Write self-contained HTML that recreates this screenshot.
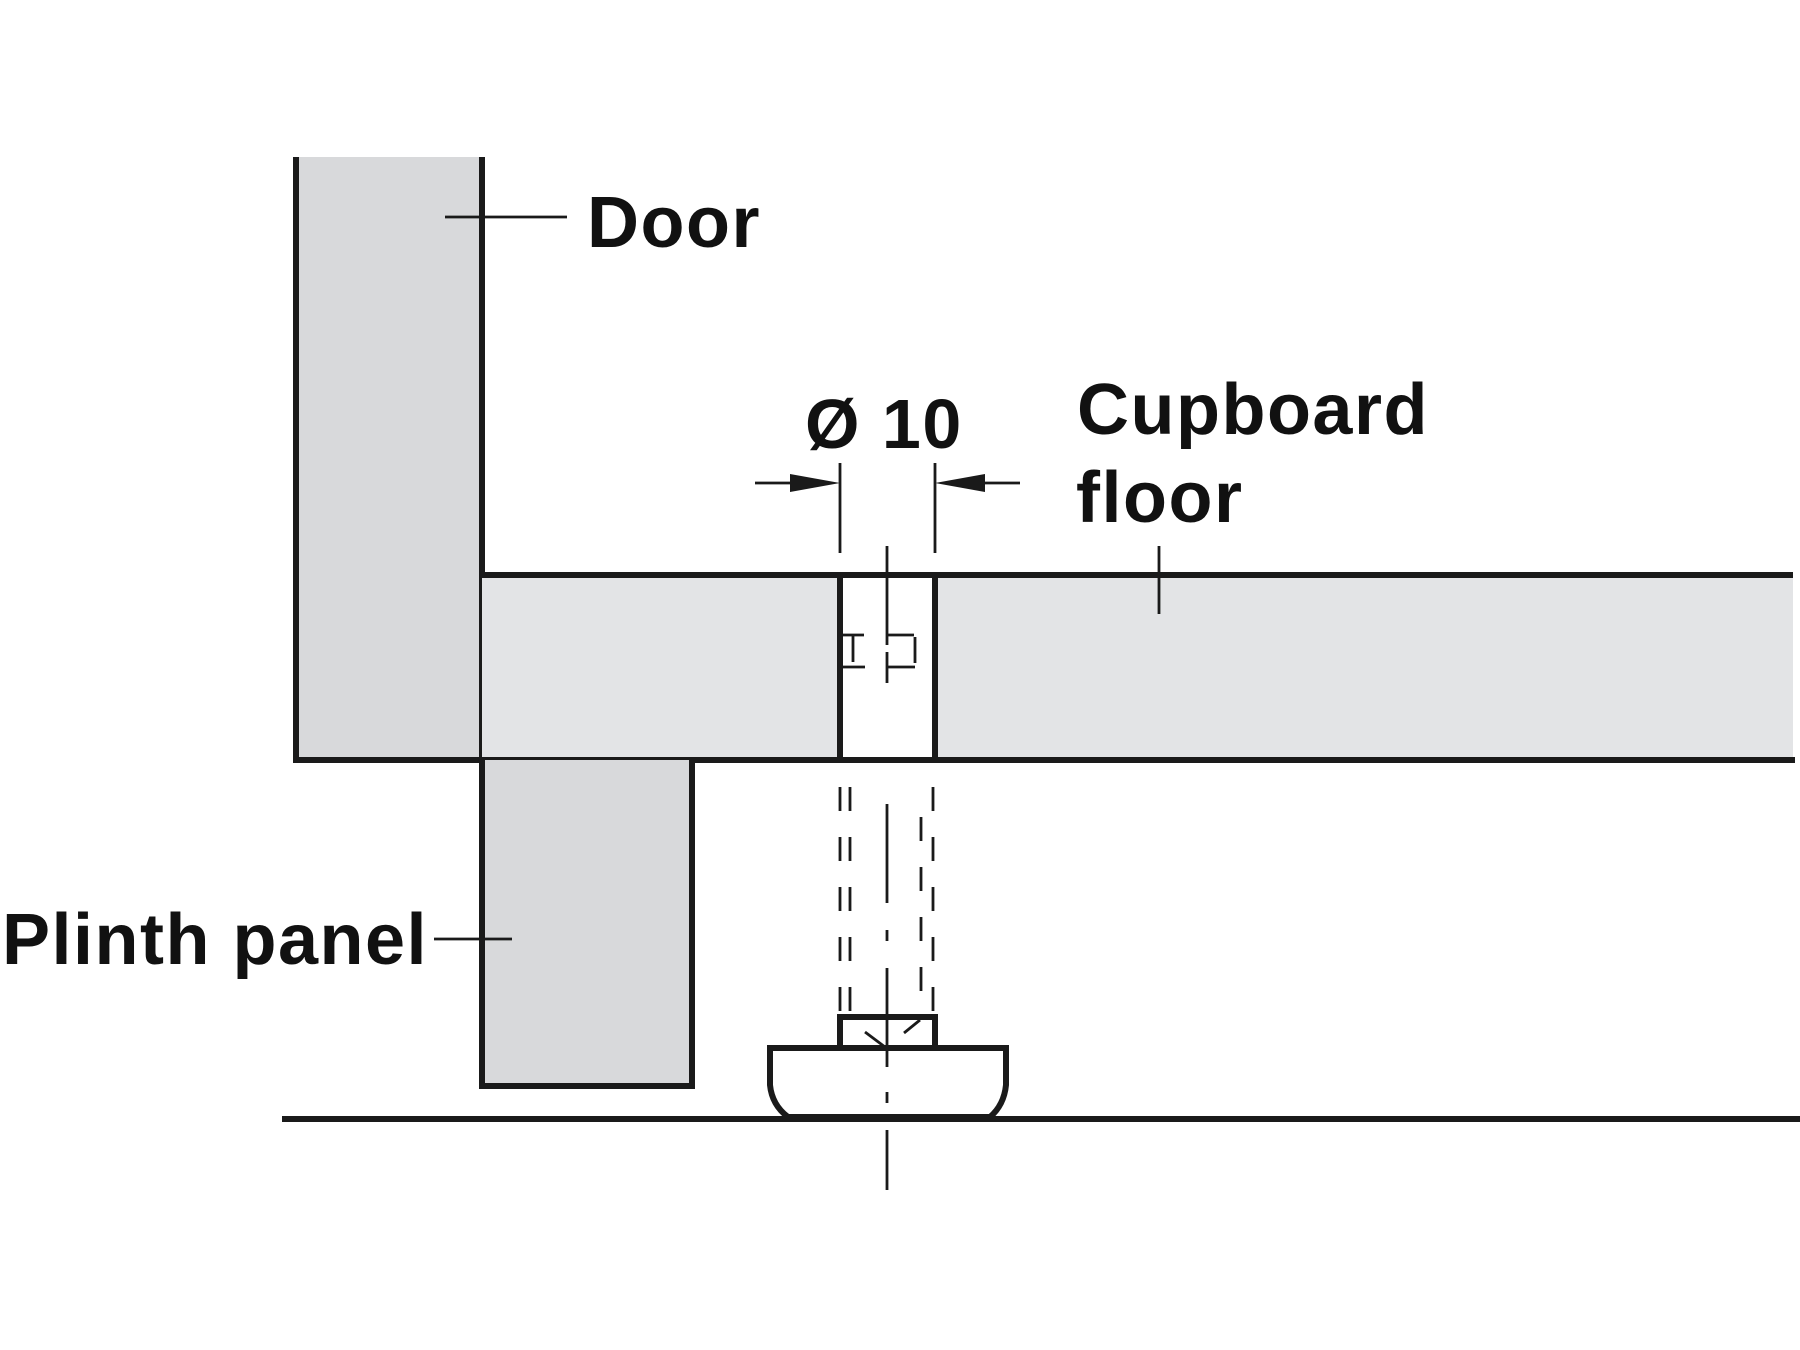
<!DOCTYPE html>
<html><head><meta charset="utf-8"><style>
html,body{margin:0;padding:0;background:#fff;}
svg{display:block}
text{font-family:"Liberation Sans",Arial,sans-serif;font-weight:bold;fill:#111;letter-spacing:1.5px;}
</style></head><body>
<svg width="1800" height="1350" viewBox="0 0 1800 1350" xmlns="http://www.w3.org/2000/svg">
<g stroke="#1a1a1a" stroke-width="6" fill="none">
  <path d="M296 157 V760 H482 V157" fill="#d8d9db"/>
  <rect x="482" y="575" width="1311" height="185" fill="#e3e4e6" stroke="none"/>
  <line x1="482" y1="575" x2="1793" y2="575"/>
  <line x1="482" y1="760" x2="1795" y2="760"/>
  <rect x="840" y="578" width="95" height="179" fill="#fff" stroke="none"/>
  <line x1="840" y1="575" x2="840" y2="760"/>
  <line x1="935" y1="575" x2="935" y2="760"/>
  <path d="M482 760 V1086 H692 V760" fill="#d8d9db"/>
  <line x1="282" y1="1119" x2="1800" y2="1119"/>
  <rect x="840" y="1017" width="95" height="31" fill="#fff"/>
  <path d="M770 1048 H1006 V1085 Q1004 1105 990 1117 H788 Q772 1105 770 1085 Z" fill="#fff"/>
</g>
<g stroke="#1a1a1a" stroke-width="2.8" fill="none">
  <line x1="445" y1="217" x2="567" y2="217"/>
  <line x1="434" y1="939" x2="512" y2="939"/>
  <line x1="1159" y1="546" x2="1159" y2="614"/>
  <line x1="840" y1="463" x2="840" y2="553"/>
  <line x1="935" y1="463" x2="935" y2="553"/>
  <line x1="755" y1="483" x2="800" y2="483"/>
  <line x1="975" y1="483" x2="1020" y2="483"/>
  <line x1="887" y1="546" x2="887" y2="645"/>
  <line x1="887" y1="652" x2="887" y2="683"/>
  <line x1="887" y1="804" x2="887" y2="903"/>
  <line x1="887" y1="930" x2="887" y2="941"/>
  <line x1="887" y1="968" x2="887" y2="1067"/>
  <line x1="887" y1="1092" x2="887" y2="1103"/>
  <line x1="887" y1="1130" x2="887" y2="1190"/>
  <path d="M842 635 H864 M853 635 V662 M842 667 H865"/>
  <path d="M887 635 H914 M915 637 V663 M888 667 H915"/>
  <line x1="840" y1="787" x2="840" y2="1015" stroke-dasharray="24 26"/>
  <line x1="850" y1="787" x2="850" y2="1015" stroke-dasharray="24 26"/>
  <line x1="921" y1="817" x2="921" y2="992" stroke-dasharray="24 26"/>
  <line x1="933" y1="787" x2="933" y2="1015" stroke-dasharray="24 26"/>
  <line x1="865" y1="1032" x2="885" y2="1047"/>
  <line x1="904" y1="1033" x2="920" y2="1020"/>
</g>
<polygon points="840,483 790,474 790,492" fill="#1a1a1a"/>
<polygon points="935,483 985,474 985,492" fill="#1a1a1a"/>
<text x="587" y="247" font-size="72">Door</text>
<text x="805" y="448" font-size="70">Ø 10</text>
<text x="1077" y="434" font-size="72">Cupboard</text>
<text x="1076" y="522" font-size="72">floor</text>
<text x="2" y="964" font-size="72">Plinth panel</text>
</svg>
</body></html>
